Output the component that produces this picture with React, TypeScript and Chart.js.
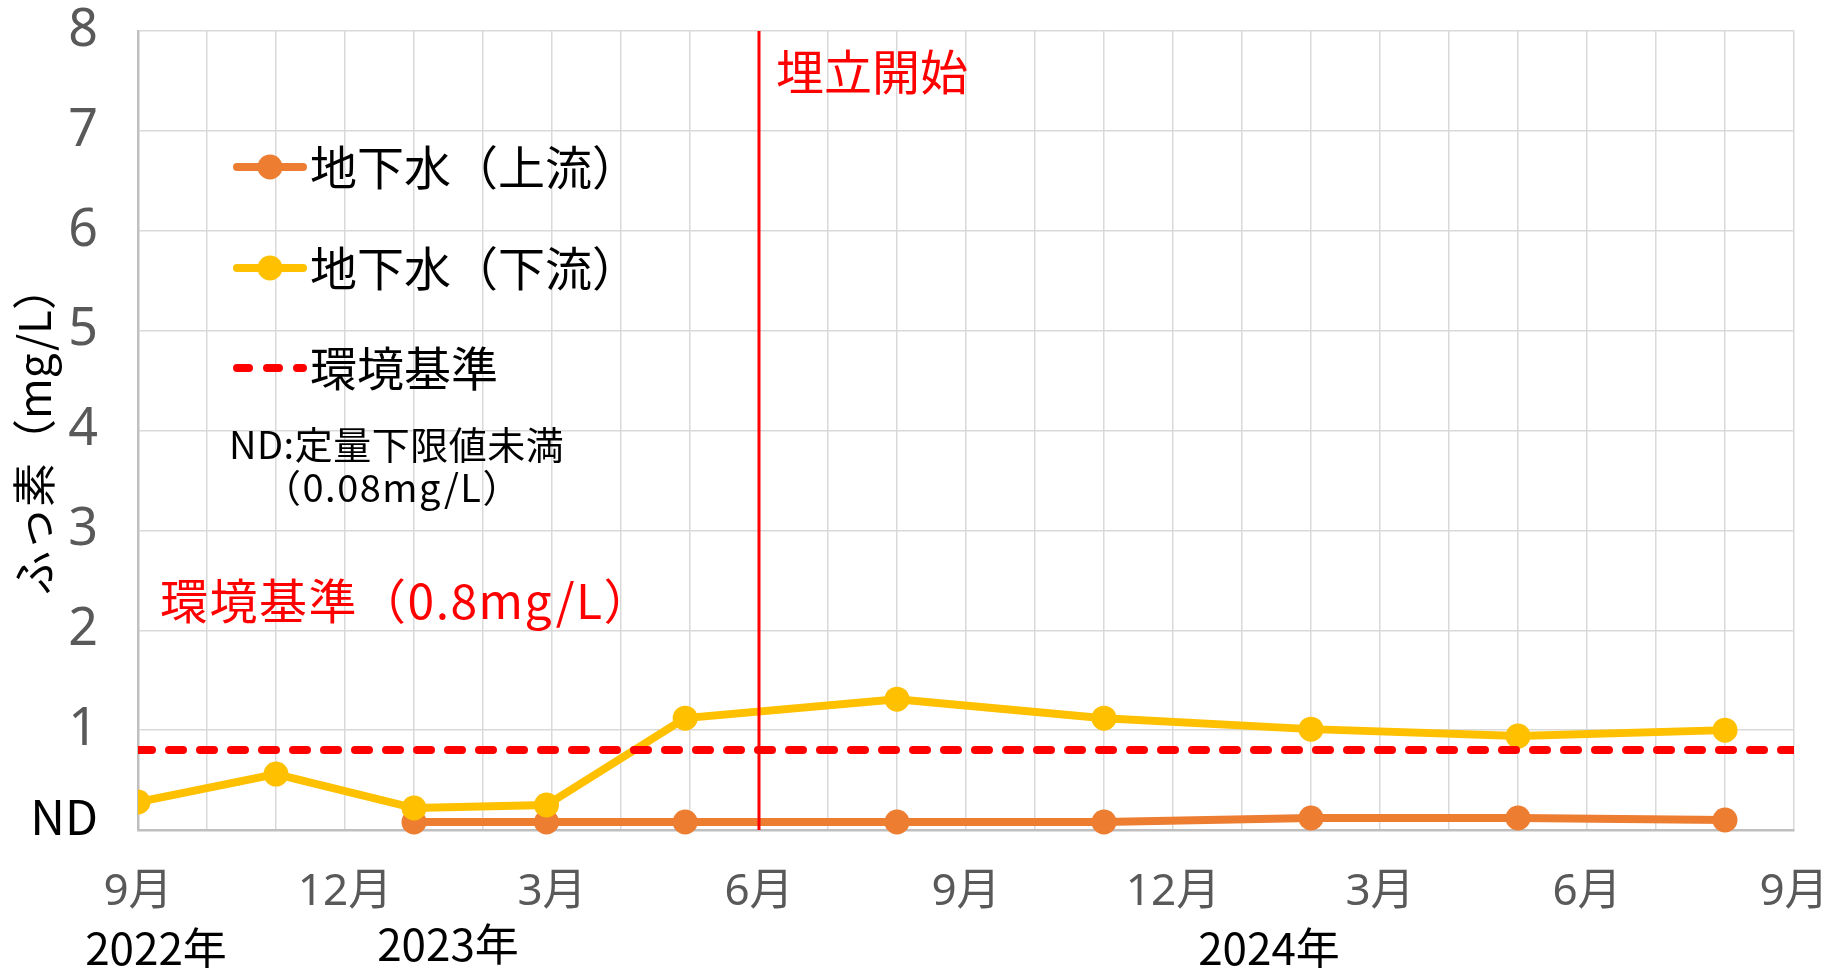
import React, { useEffect, useRef } from 'react';
import { Chart, registerables } from 'chart.js';

Chart.register(...registerables);

// months counted from Sep 2022 (0) to Sep 2024 (24)
const downstreamMonths = [0, 2, 4, 5.92, 7.93, 11, 14, 17, 20, 23];
const downstreamValues = [0.28, 0.56, 0.22, 0.25, 1.12, 1.31, 1.12, 1.01, 0.94, 1.0];
const upstreamMonths = [4, 5.92, 7.93, 11, 14, 17, 20, 23];
const upstreamValues = [0.08, 0.08, 0.08, 0.08, 0.08, 0.12, 0.12, 0.1];
const standardValue = 0.8;
const landfillStartMonth = 9;
const monthTickLabels = ['9月', '12月', '3月', '6月', '9月', '12月', '3月', '6月', '9月'];
const yTickLabels = ['ND', '1', '2', '3', '4', '5', '6', '7', '8'];
const yearLabels = ['2022年', '2023年', '2024年'];
const seriesNames = ['地下水（上流）', '地下水（下流）', '環境基準'];
const axisTitle = 'ふっ素（mg/L）';
const landfillText = '埋立開始';
const standardText = '環境基準（0.8mg/L）';
const ndNote = ['ND:定量下限値未満', '（0.08mg/L）'];

const ORANGE = '#ED7D31';
const YELLOW = '#FFC000';
const RED = '#FF0000';
const CJK = '"Noto Sans CJK JP", "Noto Sans", sans-serif';
const TICKFONT = '"Noto Sans", "Noto Sans CJK JP", sans-serif';

const annotationPlugin = {
  id: 'annotations',
  afterDatasetsDraw(chart: any) {
    const ctx = chart.ctx as CanvasRenderingContext2D;
    ctx.save();
    // legend
    const items = [
      { label: seriesNames[0], color: ORANGE, marker: true, dash: false, y: 167 },
      { label: seriesNames[1], color: YELLOW, marker: true, dash: false, y: 268 },
      { label: seriesNames[2], color: RED, marker: false, dash: true, y: 368 },
    ];
    items.forEach((it) => {
      ctx.strokeStyle = it.color;
      ctx.lineWidth = 8;
      ctx.lineCap = 'round';
      ctx.setLineDash(it.dash ? [12, 18] : []);
      ctx.beginPath();
      ctx.moveTo(237, it.y);
      ctx.lineTo(303, it.y);
      ctx.stroke();
      ctx.setLineDash([]);
      if (it.marker) {
        ctx.fillStyle = it.color;
        ctx.beginPath();
        ctx.arc(270, it.y, 12.5, 0, Math.PI * 2);
        ctx.fill();
      }
      ctx.fillStyle = '#000';
      ctx.font = `47px ${CJK}`;
      ctx.textAlign = 'left';
      ctx.textBaseline = 'middle';
      ctx.fillText(it.label, 310, it.y);
    });
    // ND note
    ctx.fillStyle = '#000';
    ctx.font = `38px ${CJK}`;
    ctx.textBaseline = 'middle';
    (ctx as any).letterSpacing = '0.5px';
    ctx.fillText(ndNote[0], 229, 445);
    (ctx as any).letterSpacing = '1.5px';
    ctx.fillText(ndNote[1], 263, 488);
    // red annotations
    (ctx as any).letterSpacing = '0px';
    ctx.fillStyle = RED;
    ctx.font = `48px ${CJK}`;
    ctx.fillText(landfillText, 776, 72);
    (ctx as any).letterSpacing = '1.5px';
    ctx.fillText(standardText, 160, 601);
    (ctx as any).letterSpacing = '0px';
    // year labels
    ctx.fillStyle = '#000';
    ctx.font = `44px ${CJK}`;
    ctx.textAlign = 'center';
    ctx.fillText(yearLabels[0], 156, 948);
    ctx.fillText(yearLabels[1], 448, 944);
    ctx.fillText(yearLabels[2], 1269, 948);
    ctx.restore();
  },
};

export default function App() {
  const canvasRef = useRef<HTMLCanvasElement | null>(null);

  useEffect(() => {
    document.body.style.margin = '0';
    const canvas = canvasRef.current;
    if (!canvas) return;
    const zeroPad = (s: any) => {
      s.paddingTop = 0;
      s.paddingBottom = 0;
      s.paddingLeft = 0;
      s.paddingRight = 0;
    };
    const chart = new Chart(canvas, {
      type: 'line',
      data: {
        datasets: [
          {
            label: 'landfill',
            data: [
              { x: landfillStartMonth, y: 0 },
              { x: landfillStartMonth, y: 8 },
            ],
            borderColor: RED,
            borderWidth: 3,
            pointRadius: 0,
            pointHoverRadius: 0,
            order: 0,
          },
          {
            label: seriesNames[2],
            data: [
              { x: 0, y: standardValue },
              { x: 24, y: standardValue },
            ],
            borderColor: RED,
            borderWidth: 8,
            borderDash: [14, 17],
            borderCapStyle: 'round',
            pointRadius: 0,
            pointHoverRadius: 0,
            order: 1,
          },
          {
            label: seriesNames[1],
            data: downstreamMonths.map((m, i) => ({ x: m, y: downstreamValues[i] })),
            borderColor: YELLOW,
            backgroundColor: YELLOW,
            borderWidth: 8,
            pointRadius: 12.5,
            pointHoverRadius: 12.5,
            pointBorderWidth: 0,
            clip: { left: 0, top: false, right: false, bottom: false },
            order: 2,
          },
          {
            label: seriesNames[0],
            data: upstreamMonths.map((m, i) => ({ x: m, y: upstreamValues[i] })),
            borderColor: ORANGE,
            backgroundColor: ORANGE,
            borderWidth: 8,
            pointRadius: 12.5,
            pointHoverRadius: 12.5,
            pointBorderWidth: 0,
            clip: { left: 0, top: false, right: false, bottom: false },
            order: 3,
          },
        ] as any,
      },
      options: {
        responsive: false,
        animation: false,
        devicePixelRatio: 1,
        layout: { autoPadding: false, padding: { top: 31, right: 46, left: 0, bottom: 0 } },
        plugins: {
          legend: { display: false },
          tooltip: { enabled: false },
        },
        scales: {
          x: {
            type: 'linear',
            min: 0,
            max: 24,
            afterFit: (s: any) => {
              s.height = 138;
              zeroPad(s);
            },
            grid: { color: '#d9d9d9', lineWidth: 1.5, drawTicks: false },
            border: { color: '#bfbfbf', width: 2.5 },
            ticks: {
              stepSize: 1,
              autoSkip: false,
              maxRotation: 0,
              padding: 36,
              color: '#595959',
              font: { family: TICKFONT, size: 44 },
              callback: (v: any) => {
                const n = Math.round(Number(v));
                return n % 3 === 0 ? monthTickLabels[n / 3] : '';
              },
            },
          },
          y: {
            min: 0,
            max: 8,
            afterFit: (s: any) => {
              s.width = 138;
              zeroPad(s);
            },
            grid: { color: '#d9d9d9', lineWidth: 1.5, drawTicks: false },
            border: { color: '#bfbfbf', width: 2.5 },
            title: {
              display: true,
              text: axisTitle,
              color: '#000',
              font: { family: CJK, size: 44 },
              padding: { top: 8, bottom: 0 },
            },
            ticks: {
              stepSize: 1,
              padding: 40,
              color: (c: any) => (c.tick && c.tick.value === 0 ? '#000' : '#595959'),
              font: (c: any) =>
                c.tick && c.tick.value === 0
                  ? { family: CJK, size: 48, lineHeight: 0.54 }
                  : { family: TICKFONT, size: 52 },
              callback: (v: any) => {
                const n = Math.round(Number(v));
                return n === 0 ? [yTickLabels[0], ''] : yTickLabels[n];
              },
            },
          },
        },
      } as any,
      plugins: [annotationPlugin],
    });
    return () => chart.destroy();
  }, []);

  return (
    <div style={{ position: 'absolute', left: 0, top: 0, width: 1840, height: 968, background: '#fff' }}>
      <canvas ref={canvasRef} width={1840} height={968} />
    </div>
  );
}
